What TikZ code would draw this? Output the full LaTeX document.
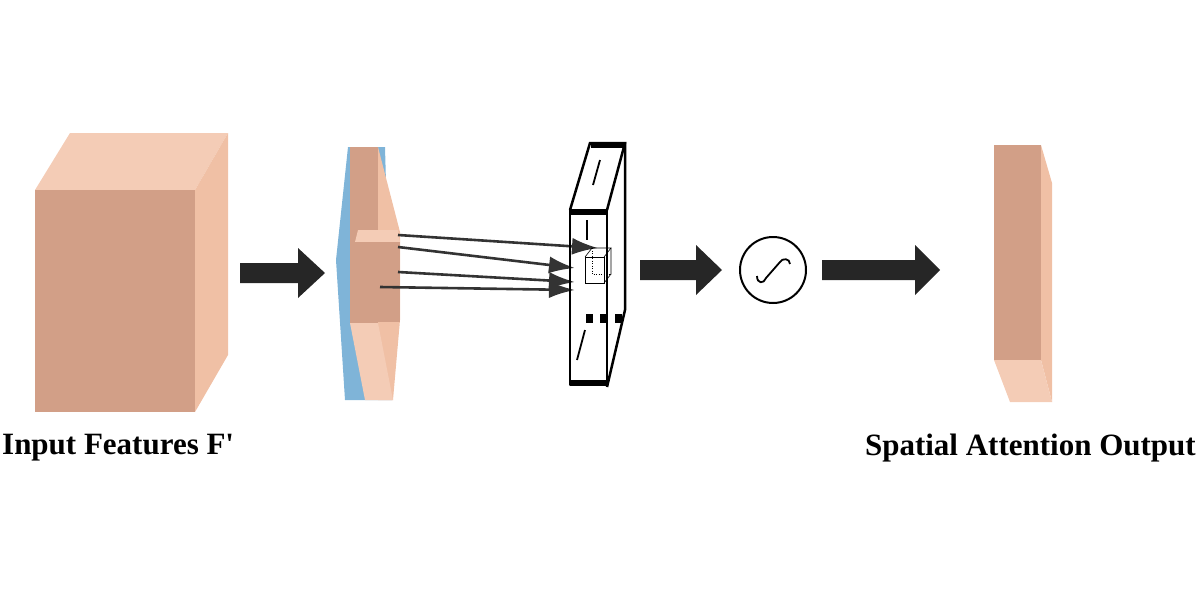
\documentclass[tikz,border=0pt]{standalone}
\usepackage{fontspec}
\setmainfont{Liberation Serif}
\newfontfamily\primefont[Ligatures=ResetAll]{Liberation Serif}
\begin{document}
\begin{tikzpicture}[x=1pt,y=-1pt,
  fat/.style={fill=black!85,draw=none},
  thin/.style={draw=black!80,line width=2.6pt,-{Latex[length=26pt,width=17pt]}},
  lab/.style={font=\bfseries\fontsize{31}{34}\selectfont,inner sep=0}]
\usetikzlibrary{arrows.meta}
\useasboundingbox (0,0) rectangle (1200,600);
\definecolor{tanA}{HTML}{D29F87}\definecolor{tanB}{HTML}{F4CCB6}\definecolor{tanC}{HTML}{F0C0A5}
\definecolor{blu}{HTML}{7FB4D8}
% big cube
\fill[tanB] (35,190)--(70,133)--(228,133)--(195,190)--cycle;
\fill[tanC] (195,190)--(228,133)--(228,355)--(195,412)--cycle;
\fill[tanA] (35,190) rectangle (195,412);
\node[lab,anchor=west] (in) at (2,448) {Input Features F{\primefont\bfseries '}};
% arrow 1
\fill[fat] (240,263)--(298,263)--(298,248)--(325,273)--(298,298)--(298,283)--(240,283)--cycle;
% middle slab
\fill[blu] (348,147)--(385,147)--(392,400)--(345,400)--(336,260)--cycle;
\fill[tanC] (378,147)--(400,232)--(400,320)--(393,400)--(378,400)--cycle;
\fill[tanB] (350,323)--(378,323)--(393,400)--(365,400)--cycle;
\fill[tanA] (350,147) rectangle (378,323);
\fill[tanB] (358,230)--(398,230)--(400,242)--(355,242)--cycle;
\fill[tanA] (355,242) rectangle (400,322);
\coordinate (s1) at (398,235);\coordinate (s2) at (398,247);
\coordinate (s3) at (398,272);\coordinate (s4) at (380,287);
\coordinate (t1) at (598,248);\coordinate (t2) at (575,268);
\coordinate (t3) at (575,282);\coordinate (t4) at (575,290);
\draw[thin] (s1)--(t1);\draw[thin] (s2)--(t2);\draw[thin] (s3)--(t3);\draw[thin] (s4)--(t4);
% 3D box
\draw[line width=2.5pt,line join=round] (570,210) rectangle (607,385);
\draw[line width=2.5pt] (607,210)--(625,143)--(590,143)--(570,210);
\draw[line width=2.5pt] (625,143)--(625,310)--(607,387);
\draw[line width=6pt] (591,145)--(625,145);
\draw[line width=6pt] (570,212)--(607,212);
\draw[line width=6pt] (570,383)--(607,383);
\draw[line width=1.8pt] (600,160)--(593,185);
\draw[line width=1.8pt] (587,220)--(587,240);
\draw[line width=1.8pt] (585,330)--(577,360);
\fill (586,314) rectangle (593,323);\fill (600,314) rectangle (607,323);\fill (615,314) rectangle (622,323);
\draw[line width=0.6pt] (585,257) rectangle (604,283);
\draw[line width=0.6pt] (585,257)--(592,248)--(611,248)--(604,257);
\draw[line width=0.6pt] (611,248)--(611,274)--(604,283);
\draw[line width=0.5pt,dotted] (592,248)--(592,274)--(611,274);
% arrow 2
\fill[fat] (640,260)--(696,260)--(696,245)--(722,270)--(696,295)--(696,280)--(640,280)--cycle;
% sigmoid
\node[circle,draw,line width=2pt,minimum size=66pt,inner sep=0] (sig) at (773,270) {};
\draw[line width=1.8pt] (757,276) .. controls (757,284) and (764,284) .. (766,278) -- (780,262) .. controls (782,258) and (790,258) .. (790,264);
% arrow 3
\fill[fat] (822,260)--(915,260)--(915,245)--(940,270)--(915,295)--(915,280)--(822,280)--cycle;
% right slab
\fill[tanC] (1041,145)--(1052,183)--(1052,402)--(1041,360)--cycle;
\fill[tanB] (994,360)--(1041,360)--(1052,402)--(1010,402)--cycle;
\fill[tanA] (994,145) rectangle (1041,360);
\node[lab,anchor=east] (out) at (1196,448) {Spatial Attention Output};
\end{tikzpicture}
\end{document}
